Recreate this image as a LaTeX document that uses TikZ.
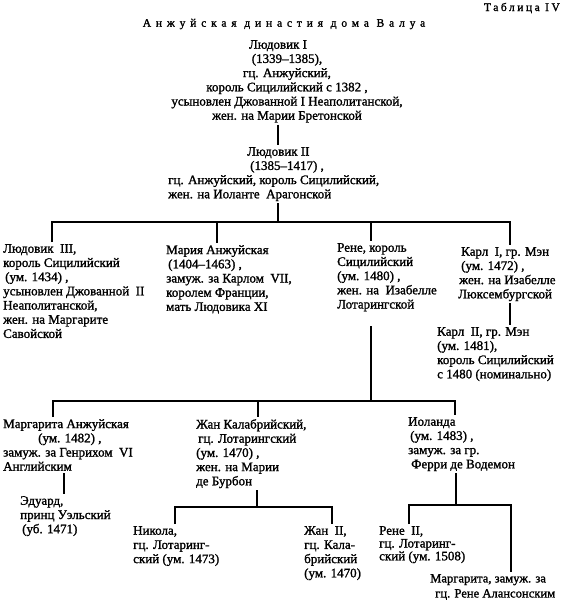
\documentclass[tikz,border=0pt]{standalone}
\usepackage{fontspec}
\setmainfont{Liberation Serif}[AutoFakeBold=1.4]
\begin{document}
\begin{tikzpicture}[x=1pt,y=-1pt,
  pn/.style={anchor=north west, align=left, inner sep=2pt, font=\fontsize{13}{14.2}\selectfont\bfseries},
  ln/.style={line width=2pt, line cap=butt},
  ttl/.style={inner sep=0pt, font=\fontsize{11.5}{14}\selectfont\bfseries\addfontfeatures{LetterSpace=#1}},
]
\useasboundingbox (0,0) rectangle (562,600);

% titles
\node[ttl=22, anchor=east] (tab) at (560,8) {Таблица IV};
\node[ttl=42] (title) at (284,24) {Анжуйская династия дома Валуа};

% generation 1
\node[pn, anchor=north, align=center] (lud1) at (287,38)
  {Людовик I\hspace*{18pt}\\(1339–1385),\\гц. Анжуйский,\\король Сицилийский с 1382 ,\\усыновлен Джованной I Неаполитанской,\\жен. на Марии Бретонской};

\node[pn] (lud2) at (166,145)
  {\hspace*{79pt}Людовик II\\\hspace*{82pt}(1385–1417) ,\\гц. Анжуйский, король Сицилийский,\\жен. на Иоланте\ \ Арагонской};

% generation 2
\node[pn] (lud3) at (1,242)
  {Людовик\ \ III,\\король Сицилийский\\\hspace*{2pt}(ум. 1434) ,\\усыновлен Джованной\ \ II\\Неаполитанской,\\жен. на Маргарите\\Савойской};
\node[pn] (maria) at (164,243)
  {Мария Анжуйская\\\hspace*{2pt}(1404–1463) ,\\замуж. за Карлом\ \ VII,\\королем Франции,\\мать Людовика XI};
\node[pn] (rene) at (335,241)
  {Рене, король\\Сицилийский\\(ум. 1480) ,\\жен. на\ \ Изабелле\\Лотарингской};
\node[pn] (karl1) at (456,245)
  {\hspace*{3pt}Карл\ \ I, гр. Мэн\\\hspace*{3pt}(ум. 1472) ,\\\hspace*{1pt}жен. на Изабелле\\Люксембургской};
\node[pn] (karl2) at (435,325)
  {Карл\ \ II, гр. Мэн\\(ум. 1481),\\король Сицилийский\\с 1480 (номинально)};

% generation 3
\node[pn] (marg) at (1,417)
  {Маргарита Анжуйская\\\hspace*{35pt}(ум. 1482) ,\\замуж. за Генрихом\ \ VI\\Английским};
\node[pn] (edu) at (18,494)
  {Эдуард,\\принц Уэльский\\\hspace*{2pt}(уб. 1471)};
\node[pn] (jean) at (194,417)
  {Жан Калабрийский,\\\hspace*{2pt}гц. Лотарингский\\(ум. 1470) ,\\жен. на Марии\\де Бурбон};
\node[pn] (iol) at (406,415)
  {Иоланда\\\hspace*{2pt}(ум. 1483) ,\\замуж. за гр.\\\hspace*{3pt}Ферри де Водемон};

% generation 4
\node[pn] (nik) at (131,524)
  {Никола,\\гц. Лотаринг-\\ский (ум. 1473)};
\node[pn] (jean2) at (302,524)
  {Жан\ \ II,\\гц. Кала-\\брийский\\(ум. 1470)};
\node[pn, font=\fontsize{13}{12.8}\selectfont\bfseries] (rene2) at (377,524)
  {Рене\ \ II,\\гц. Лотаринг-\\ский (ум. 1508)};
\node[pn, font=\fontsize{12.6}{15}\selectfont\bfseries] (marg2) at (428,572)
  {Маргарита, замуж. за\\\hspace*{5pt}гц. Рене Алансонским};

% junction coordinates
\coordinate (b1) at (278,222);
\coordinate (b1L) at (52,222);
\coordinate (b1m) at (217,222);
\coordinate (b1r) at (371,222);
\coordinate (b1R) at (510,222);
\coordinate (b2) at (371,401);
\coordinate (b2L) at (53,401);
\coordinate (b2m) at (258,401);
\coordinate (b2R) at (455,401);
\coordinate (e1) at (64,480);
\coordinate (b3) at (257,507);
\coordinate (b3L) at (175,507);
\coordinate (b3R) at (332,507);
\coordinate (b4) at (456,505);
\coordinate (b4L) at (409,505);
\coordinate (b4R) at (511,505);

% connectors
\draw[ln] (lud1.south -| b1) -- (lud2.north -| b1);
\draw[ln] (lud2.south -| b1) -- (b1);
\draw[ln] (lud3.north -| b1L) -- (b1L) -- (b1R) -- (karl1.north -| b1R);
\draw[ln] (b1m) -- (maria.north -| b1m);
\draw[ln] (b1r) -- (rene.north -| b1r);
\draw[ln] (karl1.south -| b1R) -- (karl2.north -| b1R);

\draw[ln] ([yshift=-13pt]rene.south -| b2) -- (b2);
\draw[ln] (marg.north -| b2L) -- (b2L) -- (b2R) -- (iol.north -| b2R);
\draw[ln] (b2m) -- (jean.north -| b2m);

\draw[ln] (marg.south -| e1) -- (edu.north -| e1);

\draw[ln] (jean.south -| b3) -- (b3);
\draw[ln] (nik.north -| b3L) -- (b3L) -- (b3R) -- (jean2.north -| b3R);

\draw[ln] (iol.south -| b4) -- (b4);
\draw[ln] (rene2.north -| b4L) -- (b4L) -- (b4R) -- (marg2.north -| b4R);
\end{tikzpicture}
\end{document}
